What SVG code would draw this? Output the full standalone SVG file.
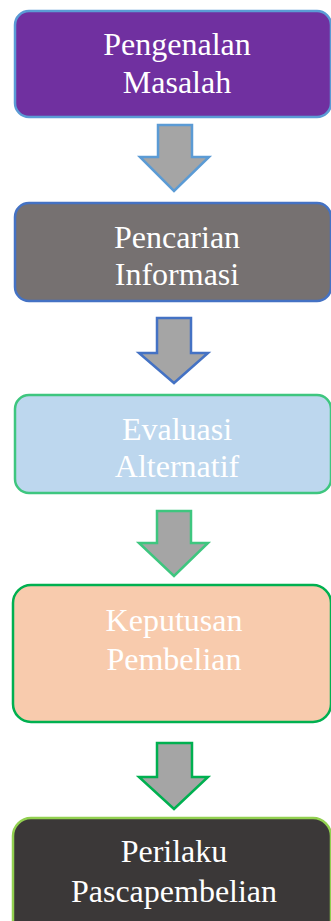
<svg xmlns="http://www.w3.org/2000/svg" width="331" height="921" viewBox="0 0 331 921">
<style>
.box{stroke-width:2.5}
.arr{fill:#a5a5a5;stroke-width:2.5;stroke-linejoin:miter}
text{font-family:"Liberation Serif","Times New Roman",serif;font-size:32px;fill:#ffffff;text-anchor:middle}
</style>
<rect width="331" height="921" fill="#ffffff"/>
<g id="node1">
<rect class="box" x="15" y="11" width="316" height="106" rx="14" fill="#7030a0" stroke="#5b9bd5"/>
<text x="177" y="55">Pengenalan</text>
<text x="177" y="93">Masalah</text>
</g>
<g id="node2">
<rect class="box" x="15" y="203" width="316" height="98" rx="14" fill="#767171" stroke="#4472c4"/>
<text x="177" y="248">Pencarian</text>
<text x="177" y="285">Informasi</text>
</g>
<g id="node3">
<rect class="box" x="15" y="395" width="316" height="98" rx="14" fill="#bdd7ee" stroke="#3ec67f"/>
<text x="177" y="440">Evaluasi</text>
<text x="177" y="477">Alternatif</text>
</g>
<g id="node4">
<rect class="box" x="13" y="585" width="318" height="137" rx="18" fill="#f8cbad" stroke="#00b050"/>
<text x="174" y="631">Keputusan</text>
<text x="174" y="670">Pembelian</text>
</g>
<g id="node5">
<rect class="box" x="13" y="818" width="318" height="120" rx="18" fill="#3b3838" stroke="#92d050"/>
<text x="174" y="862">Perilaku</text>
<text x="174" y="902">Pascapembelian</text>
</g>
<g id="connectors">
<path class="arr" stroke="#5b9bd5" d="M158,125 H192 V157 H209 L174,191 L140,157 H158 Z"/>
<path class="arr" stroke="#4472c4" d="M157,318 H191 V353 H208 L174,383 L139,353 H157 Z"/>
<path class="arr" stroke="#3ec67f" d="M157,511 H191 V543 H208 L174,576 L139,543 H157 Z"/>
<path class="arr" stroke="#00b050" d="M157,743 H192 V777 H208 L174,809 L139,777 H157 Z"/>
</g>
</svg>
